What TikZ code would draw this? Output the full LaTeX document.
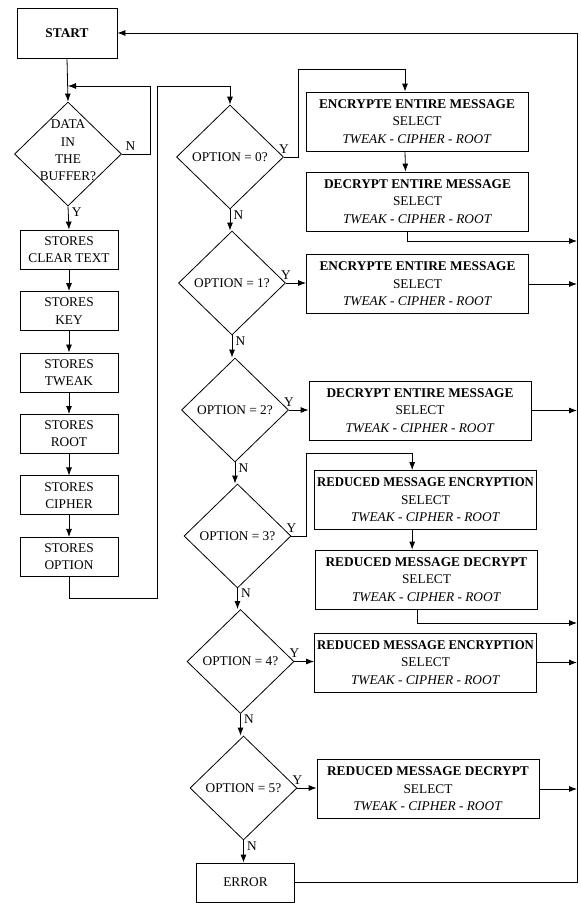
\documentclass[tikz,border=0pt]{standalone}
\usepackage{fontspec}
\usepackage{graphicx}
\setmainfont{Liberation Serif}
\usetikzlibrary{arrows.meta,shapes.geometric,positioning}

\newcommand{\tweakline}{SELECT\\\textit{TWEAK - CIPHER - ROOT}}
\newcommand{\narrowbf}[1]{\scalebox{0.955}[1]{\textbf{#1}}}

\begin{document}
\begin{tikzpicture}[
    x = 0.75pt, y = -0.75pt, % pixel grid, y downwards
    > = {Latex[length=6pt,width=4.5pt]}, % arrow head style
    node distance = 16.25pt, % gap between the store boxes
    semithick, % line style
    font = \fontsize{10}{13}\selectfont
    ]

    \tikzset{
    box/.style = {draw, align=center, inner sep=2pt, minimum width=73.5pt, minimum height=29.25pt},
    action/.style = {draw, align=center, inner sep=1pt, minimum width=166.5pt, minimum height=44.25pt},
    decision/.style = {diamond, draw, align=center, inner sep=0pt, aspect=1, minimum width=80.25pt, minimum height=78pt},
    yn/.style = {inner sep=2.5pt}
    }
    \useasboundingbox (0,0) rectangle (581,903);

    % left column
    \node[box, minimum width=75pt, minimum height=37.5pt] (start) at (67,33) {\textbf{START}};
    \node[decision, label={[align=center, yshift=2.5pt]center:DATA\\IN\\THE\\BUFFER?}] (buf) at (68,154) {};
    \node[box] (s1) at (69,249.5) {STORES\\CLEAR TEXT};
    \node[box] (s2) [below=of s1] {STORES\\KEY};
    \node[box] (s3) [below=of s2] {STORES\\TWEAK};
    \node[box] (s4) [below=of s3] {STORES\\ROOT};
    \node[box] (s5) [below=of s4] {STORES\\CIPHER};
    \node[box] (s6) [below=of s5] {STORES\\OPTION};

    % decisions
    \node[decision] (opt0) at (230,157) {OPTION = 0?};
    \node[decision] (opt1) at (232,283) {OPTION = 1?};
    \node[decision] (opt2) at (235,410) {OPTION = 2?};
    \node[decision] (opt3) at (237.5,536) {OPTION = 3?};
    \node[decision] (opt4) at (240.5,661.5) {OPTION = 4?};
    \node[decision] (opt5) at (243.5,788) {OPTION = 5?};
    \node[box] (error) at (245.5,882.5) {ERROR};

    % actions
    \node[action] (enc0) at (417,121.5) {\textbf{ENCRYPTE ENTIRE MESSAGE}\\\tweakline};
    \node[action] (dec0) at (417.5,201.5) {\textbf{DECRYPT ENTIRE MESSAGE}\\\tweakline};
    \node[action] (enc1) at (417.5,284) {\textbf{ENCRYPTE ENTIRE MESSAGE}\\\tweakline};
    \node[action] (dec2) at (420,410.5) {\textbf{DECRYPT ENTIRE MESSAGE}\\\tweakline};
    \node[action] (rme3) at (425.5,500) {\narrowbf{REDUCED MESSAGE ENCRYPTION}\\\tweakline};
    \node[action] (rmd3) at (426.5,579.5) {\textbf{REDUCED MESSAGE DECRYPT}\\\tweakline};
    \node[action] (rme4) at (425.5,662.5) {\narrowbf{REDUCED MESSAGE ENCRYPTION}\\\tweakline};
    \node[action] (rmd5) at (428,789) {\textbf{REDUCED MESSAGE DECRYPT}\\\tweakline};

    % bends
    \coordinate (loop) at (150,86);
    \coordinate (ret) at (157,598);
    \coordinate (top0) at (230,86);
    \coordinate (yes0) at (298,69);
    \coordinate (yes3) at (306,453);
    \coordinate (busTop) at (577,33);
    \coordinate (bus0) at (577,241);
    \coordinate (bus3) at (577,623);

    \draw[->] (start.south) -- (buf.north);
    \draw[->] (buf.east) node[above right, yn]{N} -| (loop) -- (loop -| buf.north);
    \draw[->] (buf.south) -- node[near start, right, yn]{Y} (s1.north);
    \foreach \a/\b in {s1/s2, s2/s3, s3/s4, s4/s5, s5/s6}
        \draw[->] (\a) -- (\b);
    \draw[->] (s6.south) |- (ret) |- (top0) -- (opt0.north);

    \draw[->] (opt0.east) node[above, yn]{Y} -| (yes0) -| ([xshift=-9pt]enc0.north);
    \draw[->] ([xshift=-9pt]enc0.south) -- ([xshift=-9pt]dec0.north);
    \draw[->] ([xshift=-7.5pt]dec0.south) |- (bus0);
    \draw[->] (opt0.south) -- node[near start, right, yn]{N} (opt0.south |- opt1.north);

    \draw[->] (opt1.east) node[above, yn]{Y} -- (opt1.east -| enc1.west);
    \draw[->] (enc1.east) -- (enc1.east -| busTop);
    \draw[->] (opt1.south) -- node[near start, right, yn]{N} (opt1.south |- opt2.north);

    \draw[->] (opt2.east) node[above, yn]{Y} -- (opt2.east -| dec2.west);
    \draw[->] (dec2.east) -- (dec2.east -| busTop);
    \draw[->] (opt2.south) -- node[near start, right, yn]{N} (opt2.south |- opt3.north);

    \draw[->] (opt3.east) node[above, yn]{Y} -| (yes3) -| ([xshift=-10pt]rme3.north);
    \draw[->] ([xshift=-10pt]rme3.south) -- ([xshift=-10pt]rme3.south |- rmd3.north);
    \draw[->] ([xshift=-7pt]rmd3.south) |- (bus3);
    \draw[->] (opt3.south) -- node[near start, right, yn]{N} (opt3.south |- opt4.north);

    \draw[->] (opt4.east) node[above, yn]{Y} -- (opt4.east -| rme4.west);
    \draw[->] (rme4.east) -- (rme4.east -| busTop);
    \draw[->] (opt4.south) -- node[near start, right, yn]{N} (opt4.south |- opt5.north);

    \draw[->] (opt5.east) node[above, yn]{Y} -- (opt5.east -| rmd5.west);
    \draw[->] (rmd5.east) -- (rmd5.east -| busTop);
    \draw[->] (opt5.south) -- node[near start, right, yn]{N} (opt5.south |- error.north);

    % back to start
    \draw[->] (error.east) -- (error.east -| busTop) -- (busTop) -- (start.east);
\end{tikzpicture}
\end{document}
